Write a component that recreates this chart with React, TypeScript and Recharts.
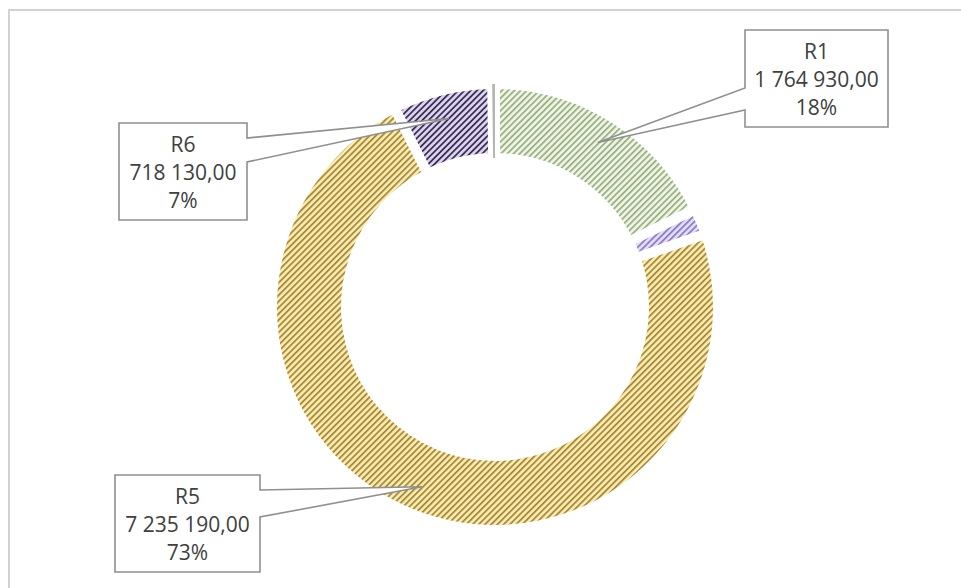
import React from 'react'
import { PieChart, Pie, Cell } from 'recharts'

// slices in clockwise order from 12 o'clock
const regions = ['R1', 'R2', 'R5', 'R6', 'R7']
const amounts = [1764930, 190000, 7235190, 718130, 20000]

const data = regions.map((name, i) => ({ name, value: amounts[i] }))

const FILLS: Record<string, string> = {
  R1: 'url(#hatch-green)',
  R2: 'url(#hatch-lilac)',
  R5: 'url(#hatch-gold)',
  R6: 'url(#hatch-purple)',
  R7: '#b5b5b5',
}

// callout boxes (only the three labelled slices)
type Box = { x: number; y: number; w: number; h: number; y1: number; y2: number; side: 'left' | 'right' }
const BOXES: Record<string, Box> = {
  R1: { x: 745, y: 30, w: 143, h: 97, y1: 88, y2: 110, side: 'left' },
  R6: { x: 119, y: 123, w: 128, h: 97, y1: 138, y2: 162, side: 'right' },
  R5: { x: 115, y: 475, w: 145, h: 97, y1: 490, y2: 517, side: 'right' },
}

const fmt = (v: number) => {
  const [int, dec] = v.toFixed(2).split('.')
  return int.replace(/\B(?=(\d{3})+(?!\d))/g, ' ') + ',' + dec
}

const RAD = Math.PI / 180

const renderCallout = (p: any) => {
  const name = p.payload?.name ?? p.name
  const box = BOXES[name]
  if (!box) return null
  const r = (p.innerRadius + p.outerRadius) / 2 + 8
  const ax = p.cx + r * Math.cos(-p.midAngle * RAD)
  const ay = p.cy + r * Math.sin(-p.midAngle * RAD)
  const { x, y, w, h, y1, y2 } = box
  const d = box.side === 'left'
    ? `M${x},${y} H${x + w} V${y + h} H${x} V${y2} L${ax},${ay} L${x},${y1} Z`
    : `M${x},${y} H${x + w} V${y1} L${ax},${ay} L${x + w},${y2} V${y + h} H${x} Z`
  const mx = x + w / 2
  const my = y + h / 2
  const txt = { textAnchor: 'middle' as const, dominantBaseline: 'central' as const, fontFamily: 'Open Sans', fontSize: 21, fill: '#404040' }
  return (
    <g key={name}>
      <path d={d} fill="#fff" stroke="#8f8f8f" strokeWidth={1.6} />
      <text x={mx} y={my - 28} {...txt}>{name}</text>
      <text x={mx} y={my} {...txt}>{fmt(p.value)}</text>
      <text x={mx} y={my + 28} {...txt}>{Math.round(p.percent * 100)}%</text>
    </g>
  )
}

const Hatch = ({ id, bg, line, lw = 1.9 }: { id: string; bg: string; line: string; lw?: number }) => (
  <pattern id={id} patternUnits="userSpaceOnUse" width="4.4" height="4.4" patternTransform="rotate(45)">
    <rect width="4.4" height="4.4" fill={bg} />
    <rect width={lw} height="4.4" fill={line} />
  </pattern>
)

export default function App() {
  return (
    <div style={{ position: 'absolute', left: 0, top: 0, width: 961, height: 588, background: '#fff', overflow: 'hidden' }}>
      <svg width={0} height={0} style={{ position: 'absolute' }}>
        <defs>
          <Hatch id="hatch-green" bg="#f1f6ea" line="#9db384" />
          <Hatch id="hatch-lilac" bg="#e6e0f7" line="#8f7fc8" />
          <Hatch id="hatch-gold" bg="#faedb8" line="#ab8d38" />
          <Hatch id="hatch-purple" bg="#dcd1f2" line="#352d48" lw={1.7} />
        </defs>
      </svg>
      <div style={{ position: 'absolute', left: 8, top: 9, width: 951, height: 577, borderTop: '2px solid #d2d2d2', borderLeft: '2px solid #d2d2d2' }} />
      <div style={{ position: 'absolute', left: 0, top: 0 }}>
        <PieChart width={961} height={588}>
          <Pie
            data={data}
            dataKey="value"
            nameKey="name"
            cx={490}
            cy={302}
            innerRadius={149}
            outerRadius={223}
            startAngle={90}
            endAngle={-270}
            stroke="#fff"
            strokeWidth={10}
            label={renderCallout}
            labelLine={false}
            isAnimationActive={false}
          >
            {data.map((d) => (
              <Cell key={d.name} fill={FILLS[d.name]} stroke={d.name === 'R7' ? 'none' : '#fff'} />
            ))}
          </Pie>
        </PieChart>
      </div>
    </div>
  )
}
